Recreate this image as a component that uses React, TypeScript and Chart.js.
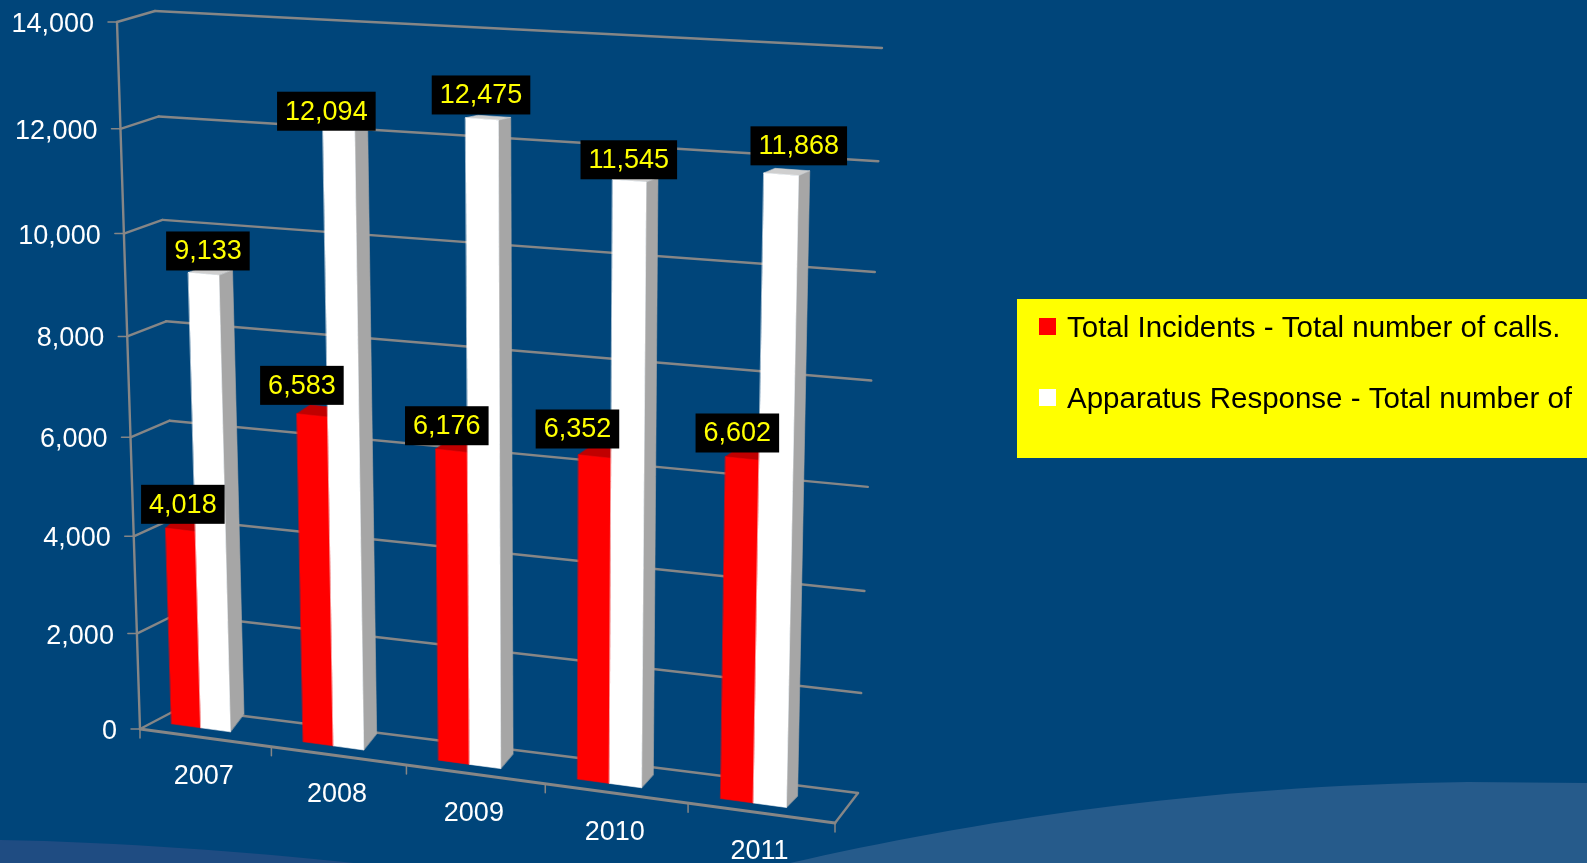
import React, { useEffect, useRef } from "react";
import { Chart, registerables } from "chart.js";

Chart.register(...registerables);

const categories = ["2007", "2008", "2009", "2010", "2011"];
const totalIncidents = [4018, 6583, 6176, 6352, 6602];
const apparatusResponse = [9133, 12094, 12475, 11545, 11868];
const seriesNames = [
  "Total Incidents - Total number of calls.",
  "Apparatus Response - Total number of",
];
const axisMax = 14000;
const axisStep = 2000;

type Pt = { x: number; y: number };
type Quad = [Pt, Pt, Pt, Pt];
const pt = (x: number, y: number): Pt => ({ x, y });

// Perspective frame of the 3D box: bottom-left, bottom-right, top-right, top-left
const FRONT_PLANE: Quad = [pt(140, 729), pt(835, 823), pt(861, 68), pt(117, 22)];
const BACK_PLANE: Quad = [pt(180, 708), pt(858, 793), pt(882, 48), pt(155, 11)];
const BAR_PLANE: Quad = [pt(136, 719), pt(827, 813), pt(844, 58), pt(113, 12)];

const LABEL_FONT = '27px "Liberation Sans", Arial, sans-serif';
const LEGEND_FONT = '29.5px "Liberation Sans", Arial, sans-serif';
const GRID = "#868686";

// Data label offsets from the top-front centre of each bar
const labelShift: Pt[][] = [
  [pt(2.2, -25.5), pt(-10.5, -30), pt(-5, -25), pt(-17.4, -27.5), pt(-5, -25.5)],
  [pt(4.2, -23), pt(-12.5, -18), pt(-1, -24), pt(-0.6, -21), pt(17.5, -28.5)],
];

function homography(q: Quad) {
  const [p0, p1, p2, p3] = q;
  const dx1 = p1.x - p2.x, dx2 = p3.x - p2.x, sx = p0.x - p1.x + p2.x - p3.x;
  const dy1 = p1.y - p2.y, dy2 = p3.y - p2.y, sy = p0.y - p1.y + p2.y - p3.y;
  const den = dx1 * dy2 - dx2 * dy1;
  const g = (sx * dy2 - dx2 * sy) / den;
  const h = (dx1 * sy - sx * dy1) / den;
  const a = p1.x - p0.x + g * p1.x, b = p3.x - p0.x + h * p3.x, c = p0.x;
  const d = p1.y - p0.y + g * p1.y, e = p3.y - p0.y + h * p3.y, f = p0.y;
  return (u: number, v: number): Pt => {
    const w = g * u + h * v + 1;
    return { x: (a * u + b * v + c) / w, y: (d * u + e * v + f) / w };
  };
}

const front = homography(FRONT_PLANE);
const back = homography(BACK_PLANE);
const barPlane = homography(BAR_PLANE);
const lerp = (a: number, b: number, t: number) => a + (b - a) * t;

function poly(ctx: CanvasRenderingContext2D, pts: Pt[], fill: string) {
  ctx.beginPath();
  pts.forEach((p, i) => (i ? ctx.lineTo(p.x, p.y) : ctx.moveTo(p.x, p.y)));
  ctx.closePath();
  ctx.fillStyle = fill;
  ctx.fill();
  ctx.strokeStyle = fill;
  ctx.lineWidth = 0.6;
  ctx.stroke();
}

function line(ctx: CanvasRenderingContext2D, a: Pt, b: Pt, width = 2.4, color = GRID) {
  ctx.beginPath();
  ctx.moveTo(a.x, a.y);
  ctx.lineTo(b.x, b.y);
  ctx.strokeStyle = color;
  ctx.lineWidth = width;
  ctx.stroke();
}

const perspectivePlugin = {
  id: "perspective",
  beforeDraw(chart: any) {
    const { ctx, width: W, height: H } = chart;
    ctx.save();
    ctx.fillStyle = "#00457a";
    ctx.fillRect(0, 0, W, H);
    ctx.fillStyle = "#265b8b";
    ctx.beginPath();
    ctx.moveTo(790, H);
    ctx.bezierCurveTo(970, 822, 1200, 785, 1468, 782);
    ctx.lineTo(W, 783);
    ctx.lineTo(W, H);
    ctx.closePath();
    ctx.fill();
    ctx.fillStyle = "#1f4c82";
    ctx.beginPath();
    ctx.moveTo(0, 840);
    ctx.bezierCurveTo(120, 842, 250, 852, 354, H);
    ctx.lineTo(0, H);
    ctx.closePath();
    ctx.fill();
    ctx.restore();
  },
  beforeDatasetsDraw(chart: any) {
    const { ctx, chartArea: area } = chart;
    const xs = chart.scales.x;
    const ys = chart.scales.y;
    const toU = (px: number) => (px - area.left) / (area.right - area.left);
    const toV = (py: number) => (area.bottom - py) / (area.bottom - area.top);

    ctx.save();
    ctx.lineCap = "round";
    ctx.lineJoin = "round";

    // Back wall, side wall and value axis
    ys.ticks.forEach((tick: any) => {
      const v = toV(ys.getPixelForValue(tick.value));
      const f = front(0, v);
      const b = back(0, v);
      line(ctx, b, back(1, v));
      line(ctx, f, b);
      line(ctx, f, pt(f.x - 9, f.y), 1.5);
    });
    line(ctx, front(0, 0), front(0, 1));

    // Floor and category axis
    line(ctx, front(0, 0), front(1, 0), 2.8);
    line(ctx, front(1, 0), back(1, 0));
    const n = categories.length;
    for (let i = 0; i <= n; i++) {
      const f = front(i / n, 0);
      line(ctx, f, pt(f.x, f.y + 9), 1.5);
    }

    // Bars, left to right, red then white
    const metas = chart.data.datasets.map((_: any, i: number) => chart.getDatasetMeta(i));
    const faces = [
      { front: "#ff0000", side: "#c80000", top: "#c00000" },
      { front: "#ffffff", side: "#a6a6a6", top: "#cfcfcf" },
    ];
    const tops: Pt[][] = [[], []];
    for (let c = 0; c < n; c++) {
      metas.forEach((meta: any, s: number) => {
        const el = meta.data[c];
        const u0 = toU(el.x - el.width / 2);
        const u1 = toU(el.x + el.width / 2);
        const v0 = toV(el.base);
        const v1 = toV(el.y);
        const D = (p: Pt, u: number, v: number) =>
          pt(p.x + lerp(14, 11, u), p.y + lerp(-19, -11, u) + lerp(21, 7, u) * v);
        const bl = barPlane(u0, v0), br = barPlane(u1, v0), tr = barPlane(u1, v1), tl = barPlane(u0, v1);
        poly(ctx, [br, tr, D(tr, u1, v1), D(br, u1, v0)], faces[s].side);
        poly(ctx, [tl, tr, D(tr, u1, v1), D(tl, u0, v1)], faces[s].top);
        poly(ctx, [bl, br, tr, tl], faces[s].front);
        tops[s][c] = pt((tl.x + tr.x) / 2, (tl.y + tr.y) / 2);
      });
    }

    // Axis labels
    ctx.font = LABEL_FONT;
    ctx.fillStyle = "#ffffff";
    ctx.textBaseline = "middle";
    ctx.textAlign = "right";
    ys.ticks.forEach((tick: any) => {
      const v = toV(ys.getPixelForValue(tick.value));
      const f = front(0, v);
      ctx.fillText(tick.label, f.x - 23, f.y + 2.5);
    });
    ctx.textAlign = "center";
    xs.ticks.forEach((tick: any, i: number) => {
      const u = toU(xs.getPixelForValue(i));
      const f = front(u, 0);
      ctx.fillText(String(tick.label), f.x - 1.5, f.y + 39);
    });

    // Data labels
    chart.data.datasets.forEach((ds: any, s: number) => {
      ds.data.forEach((value: number, c: number) => {
        const text = value.toLocaleString("en-US");
        const cx = tops[s][c].x + labelShift[s][c].x;
        const cy = tops[s][c].y + labelShift[s][c].y;
        const w = ctx.measureText(text).width + 16;
        ctx.fillStyle = "#000000";
        ctx.fillRect(cx - w / 2, cy - 19.5, w, 39);
        ctx.fillStyle = "#ffff00";
        ctx.fillText(text, cx, cy + 1);
      });
    });

    // Legend
    ctx.fillStyle = "#ffff00";
    ctx.fillRect(1017, 299, chart.width - 1017, 159);
    ctx.font = LEGEND_FONT;
    ctx.textAlign = "left";
    ctx.textBaseline = "alphabetic";
    chart.data.datasets.forEach((ds: any, s: number) => {
      const top = 318 + s * 71;
      ctx.fillStyle = ds.backgroundColor;
      ctx.fillRect(1039, top, 17, 17);
      ctx.fillStyle = "#000000";
      ctx.fillText(ds.label, 1067, top + 19);
    });
    ctx.restore();
  },
  // The flat bars are replaced by their projected versions above
  beforeDatasetDraw() {
    return false;
  },
};

export default function App() {
  const ref = useRef<HTMLCanvasElement>(null);

  useEffect(() => {
    if (!ref.current) return;
    const chart = new Chart(ref.current, {
      type: "bar",
      plugins: [perspectivePlugin],
      data: {
        labels: categories,
        datasets: [
          { label: seriesNames[0], data: totalIncidents, backgroundColor: "#ff0000" },
          { label: seriesNames[1], data: apparatusResponse, backgroundColor: "#ffffff" },
        ],
      },
      options: {
        responsive: false,
        animation: false,
        events: [],
        categoryPercentage: 0.45,
        barPercentage: 1,
        layout: { padding: 0 },
        plugins: { legend: { display: false }, tooltip: { enabled: false } },
        scales: {
          x: { display: false },
          y: {
            display: false,
            min: 0,
            max: axisMax,
            ticks: { stepSize: axisStep, callback: (v: any) => Number(v).toLocaleString("en-US") },
          },
        },
      } as any,
    });
    return () => chart.destroy();
  }, []);

  return (
    <div style={{ position: "absolute", left: 0, top: 0, width: 1587, height: 863, overflow: "hidden" }}>
      <canvas ref={ref} width={1587} height={863} style={{ display: "block" }} />
    </div>
  );
}
